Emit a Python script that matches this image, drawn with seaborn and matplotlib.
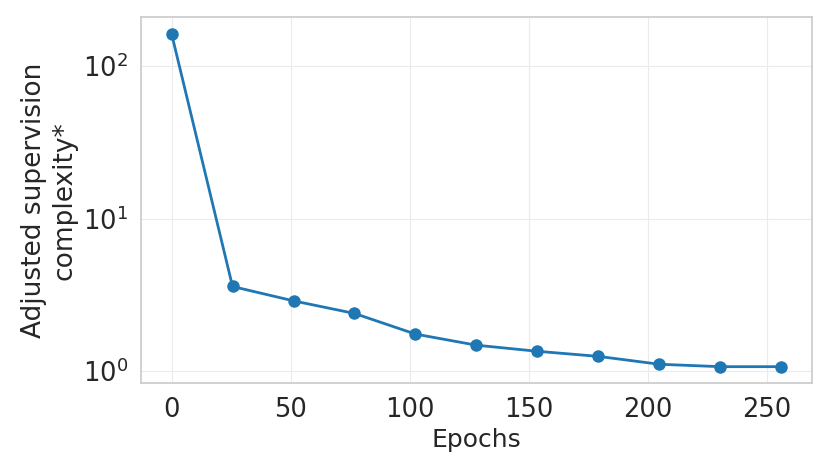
import numpy as np
import pandas as pd
import matplotlib
matplotlib.use("Agg")
import matplotlib.pyplot as plt
import seaborn as sns

# values
epochs = [0, 25.6, 51.2, 76.8, 102.4, 128, 153.6, 179.2, 204.8, 230.4, 256]
complexity = [163, 3.59, 2.89, 2.39, 1.75, 1.48, 1.35, 1.25, 1.11, 1.07, 1.07]

df = pd.DataFrame({"Epochs": epochs, "complexity": complexity})

sns.set_theme(style="whitegrid")
plt.rcParams['font.family'] = ['DejaVu Sans']

fig, ax = plt.subplots(figsize=(8.3, 4.75), dpi=100)
sns.lineplot(data=df, x="Epochs", y="complexity", marker="o", markersize=9,
             markeredgewidth=0, linewidth=2, color="#1f77b4", ax=ax)
ax.set_yscale("log")
ax.set_xticks([0, 50, 100, 150, 200, 250])
ax.set_xlabel("Epochs", fontsize=18)
ax.set_ylabel("Adjusted supervision\ncomplexity*", fontsize=19)
ax.tick_params(axis="both", labelsize=18.5)
ax.grid(True, color="#ebebeb", linewidth=0.8)
ax.grid(False, which="minor")
for spine in ax.spines.values():
    spine.set_color("#cccccc")

fig.subplots_adjust(left=0.17, right=0.978, top=0.964, bottom=0.193)
fig.savefig("out.png", dpi=100)
